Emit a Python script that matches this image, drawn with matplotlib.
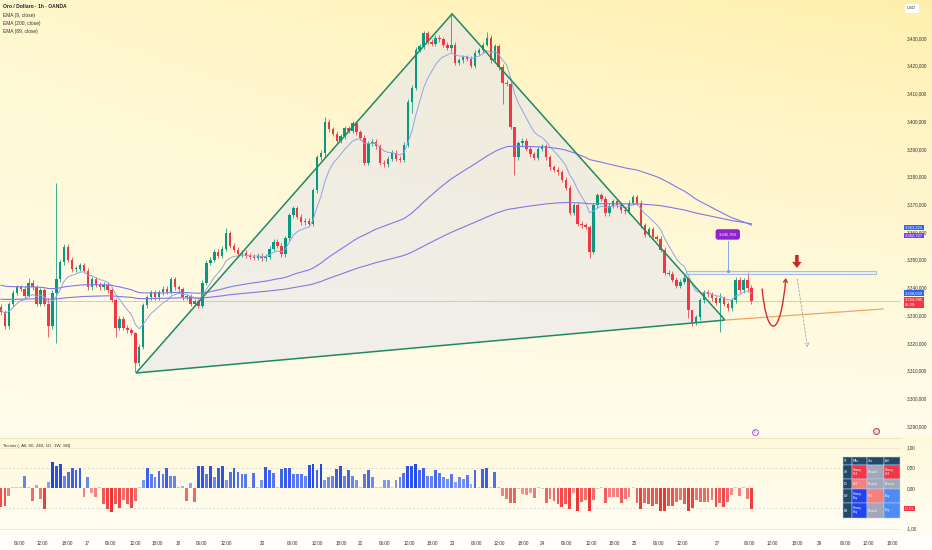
import numpy as np
import matplotlib
matplotlib.use('Agg')
from matplotlib import pyplot as plt
import matplotlib.patches as patches
from matplotlib.path import Path

plt.rcParams['font.family'] = ['Liberation Sans', 'DejaVu Sans']

# ---- data (1h bars, XAU/USD OANDA) ----
first_open = 3333.0
closes = [
    3331, 3326, 3334, 3338, 3340, 3339.5, 3337, 3341.6, 3340, 3334,
    3339, 3334, 3326, 3338, 3343, 3349, 3354.6, 3350, 3346.6, 3346.8,
    3348, 3346, 3340, 3343, 3341, 3340, 3341, 3339, 3335.5, 3325.4,
    3328.6, 3325.4, 3324.5, 3323.6, 3312.7, 3318.5, 3333.6, 3336.5, 3338.3, 3336.5,
    3338.3, 3339.5, 3338.5, 3343, 3340, 3339.4, 3336.5, 3336.8, 3334, 3335,
    3333.3, 3341.6, 3348.8, 3350, 3352.8, 3351.5, 3354, 3359.6, 3355, 3353.5,
    3352, 3352.5, 3351.5, 3351, 3350.6, 3351.5, 3350.5, 3351, 3354, 3356.4,
    3355, 3352, 3357.8, 3366, 3368.6, 3365.5, 3363.5, 3364, 3363, 3375,
    3387, 3388.5, 3399.7, 3397, 3395.5, 3393, 3394.5, 3397.5, 3396.5, 3399.3,
    3396, 3394, 3385, 3392, 3392.5, 3391, 3385, 3384.5, 3386.5, 3388.5,
    3386.5, 3386, 3391.4, 3407, 3412, 3425.7, 3427, 3431.8, 3428.6, 3428,
    3430, 3429.5, 3427.5, 3426.5, 3427.5, 3421, 3422, 3423, 3422.5, 3420,
    3424.6, 3425.5, 3427.5, 3430, 3422, 3427, 3419.5, 3413.8, 3413.5, 3398,
    3387, 3392, 3393, 3390, 3388, 3386.7, 3390, 3391, 3387, 3383.4,
    3382.5, 3381.5, 3378.8, 3376, 3367, 3369.7, 3363, 3362.5, 3361.8, 3352.8,
    3369.7, 3373.3, 3372, 3366.8, 3369.5, 3371, 3369.7, 3367.8, 3367.5, 3370.5,
    3372.6, 3370.5, 3362.5, 3358.9, 3361, 3358, 3357.5, 3353.5, 3345.2, 3345,
    3342.7, 3340.5, 3342, 3343.4, 3331.8, 3327.5, 3329.3, 3335.4, 3338.3, 3337.5,
    3336, 3334.5, 3336, 3334, 3332.5, 3335.4, 3342.7, 3339, 3342.5, 3339.8, 3334.995,
]
# bars with long wicks: bar -> (high, low)
long_wicks = {
    7: (3343.5, 3336.5), 12: (3336, 3322), 14: (3377.7, 3320), 29: (3336, 3322),
    34: (3324, 3309.3), 57: (3361.5, 3353), 82: (3401.5, 3387), 104: (3413, 3403),
    114: (3438.5, 3425), 123: (3432, 3427), 127: (3420.5, 3406), 130: (3398, 3380.5),
    149: (3362.5, 3350.5), 174: (3343.5, 3329), 175: (3332, 3326),
    182: (3338, 3324), 189: (3346, 3338.5),
}
ema_seeds = {9: 3332.0, 200: 3335.8, 89: 3341.0}

# "Tecnici" histogram, one value per bar
hist = [
    -0.46, -0.44, -0.20, 0, 0, 0, 0.30, 0, -0.32, 0.07,
    -0.27, -0.53, 0.16, 0.64, 0.55, 0.60, 0.30, 0.40, 0.49, 0.45,
    0.49, -0.21, 0.27, -0.13, -0.23, 0, -0.40, -0.51, -0.59, -0.40,
    -0.49, -0.30, -0.40, -0.49, -0.31, 0.02, 0.20, 0.49, 0.35, 0.28,
    0.42, 0.34, 0.49, 0.29, 0.29, 0, 0.06, -0.32, 0.12, -0.34,
    0.54, 0.54, 0.35, 0.55, 0.26, 0.49, 0.55, 0.20, 0.39, 0.49,
    0.39, 0.35, 0.35, 0, 0.38, 0, 0.21, 0.52, 0.45, 0.36,
    0.02, 0.46, 0.50, 0.50, 0.35, 0.35, 0.35, 0.30, 0.56, 0.60,
    0.45, 0.60, 0.21, 0.26, 0.30, 0.48, 0.55, 0.30, 0.45, 0.30,
    0.21, 0.02, 0.35, 0.44, 0.26, 0, 0, 0.19, 0.19, 0.03,
    0.20,
    0.28, 0.38, 0.55, 0.55, 0.59, 0.44, 0.49, 0.30, 0.30, 0.44,
    0.36, 0.26, 0.23, 0.35, 0.16, 0.26, 0.23, 0.33, 0.10, 0.44,
    0, 0.46, 0.50, 0, 0.40, 0, -0.20, -0.26, -0.36, -0.36,
    -0.03, -0.14, -0.18, -0.13, -0.25, 0, -0.02, -0.36, -0.28, -0.32,
    -0.40, -0.48, -0.40, -0.51, -0.13, -0.57, -0.34, -0.30, -0.57, -0.30,
    -0.03, 0, -0.37, -0.21, -0.21, -0.21, -0.37, -0.26, -0.21, 0,
    -0.36, -0.53, -0.36, -0.40, -0.44, -0.40, -0.57, -0.57, -0.44, -0.44,
    -0.34, -0.29, -0.40, -0.57, -0.50, -0.29, -0.34, -0.34, -0.34, -0.29,
    -0.48, -0.36, -0.48, -0.34, -0.17, 0, -0.20, 0, -0.26, -0.53,
]

# time axis (bar number, label)
tick_pos = [4.8, 10.6, 16.7, 21.8, 27.8, 33.9, 39.5, 44.8, 50.9, 57.0, 66.1,
            73.9, 80.0, 86.1, 91.1, 97.2, 103.3, 109.1, 114.2, 120.3, 126.3,
            132.2, 137.2, 143.3, 149.4, 155.2, 160.3, 166.6, 172.4, 181.5,
            189.4, 195.4, 201.5, 207.3, 213.7, 219.5, 225.6]
tick_lab = ['06:00', '12:00', '18:00', '17', '06:00', '12:00', '18:00', '18',
            '06:00', '12:00', '20', '06:00', '12:00', '18:00', '22', '06:00',
            '12:00', '18:00', '23', '06:00', '12:00', '18:00', '24', '06:00',
            '12:00', '18:00', '25', '06:00', '12:00', '27', '06:00', '12:00',
            '18:00', '29', '06:00', '12:00', '18:00']

price_ticks = [3290, 3300, 3310, 3320, 3330, 3340, 3350, 3360, 3370, 3380,
               3390, 3400, 3410, 3420, 3430]
osc_ticks = [1.0, 0.5, 0.0, -1.0]

# right-scale value labels
ema89_last = 3363.224
ema200_last = 3362.727
ema9_last = 3338.039
last_close = 3334.995
countdown = '05:29'
osc_last = -0.51

# drawings (bar, price)
tri_pts = [(34.2, 3309.1), (114.2, 3438.7), (183.3, 3328.2)]
trend_end = (223.3, 3332.2)
zone = (173.4, 221.5, 3344.7, 3345.9)
zone_label = 3345.789
zone_label_pos = (184.0, 3359.1)
u_curve = [(192.7, 3339.4), (194.0, 3321.0), (197.3, 3321.0), (198.7, 3343.4)]
down_arrow = (201.5, 3351.7, 4.7)
dashed_path = [(201.5, 3344.0), (204.3, 3317.4)]

# technical rating table
tbl_head = ['TF', 'MAs', 'Osc', 'All']
tbl_tf = ['4H', '1D', '1W', '1M']
tbl_vals = [['Strong\nSell', 'Neutral', 'Strong\nSell'],
            ['Sell', 'Neutral', 'Neutral'],
            ['Strong\nBuy', 'Sell', 'Buy'],
            ['Strong\nBuy', 'Neutral', 'Buy']]

GREEN = '#089981'
RED = '#f23645'
W, H = 932, 550
YTOP, YBOT = 3443.71, 3286.0
XL, XR = -0.25, 227.6


def fmt_it(v, nd=3):
	s = f'{v:,.{nd}f}'
	return s.replace(',', '#').replace('.', ',').replace('#', '.')


def fx(x):
	return x / W


def fy(y):
	return 1 - y / H


def ema(vals, span, seed):
	a = 2.0 / (span + 1)
	out = []
	p = seed
	for v in vals:
		p = p + a * (v - p)
		out.append(p)
	return np.array(out)


def draw_background(fig):
	bg = fig.add_axes([0, 0, 1, 1], zorder=-10)
	ny, nx = 275, 60
	img = np.ones((ny, nx, 3))
	u = np.linspace(0, 1, nx)
	for r in range(ny):
		ypx = (r + 0.5) * H / ny
		if ypx < 437:
			t = (ypx / 437) ** 0.8
			top = np.stack([np.ones(nx), 0.968 - 0.03 * u, 0.80 - 0.13 * u], 1)
			bot = np.array([1.0, 0.99, 0.925])
			img[r] = top * (1 - t) + bot * t
		elif ypx < 536:
			t = (ypx - 437) / 99
			img[r] = np.array([1.0, 0.975, 0.855]) * (1 - t) + np.array([1.0, 0.995, 0.955]) * t
		else:
			img[r] = [1.0, 0.998, 0.985]
	bg.imshow(img, aspect='auto', extent=[0, 1, 0, 1], interpolation='bilinear')
	bg.axis('off')


def draw_candles(ax):
	c = np.array(closes, dtype=float)
	o = np.r_[first_open, c[:-1]]
	x = np.arange(len(c))
	hi = np.maximum(o, c) + 0.9
	lo = np.minimum(o, c) - 0.9
	for b, (h, l) in long_wicks.items():
		hi[b] = h
		lo[b] = l
	col = np.where(c >= o, GREEN, RED)
	ax.vlines(x, lo, hi, colors=col, lw=0.55, zorder=4)
	body = np.maximum(np.abs(c - o), 0.35)
	ax.bar(x, body, bottom=np.minimum(o, c), width=0.62, color=col, zorder=5)
	ax.plot(x, ema(c, 9, ema_seeds[9]), color='#8ea6e6', lw=0.7, zorder=6)
	ax.plot(x, ema(c, 200, ema_seeds[200]), color='#8a74e0', lw=0.8, zorder=6)
	ax.plot(x, ema(c, 89, ema_seeds[89]), color='#7f7ae8', lw=0.8, zorder=6)
	ax.axhline(last_close, color='#f2a3a3', lw=0.5, zorder=3)


def draw_tools(ax):
	ax.add_patch(patches.Polygon(tri_pts, closed=True, facecolor=(0.9, 0.9, 0.92),
		alpha=0.6, edgecolor='none', zorder=1))
	ax.add_patch(patches.Polygon(tri_pts, closed=True, fill=False,
		edgecolor='#1f8a62', lw=1.1, zorder=7))
	p3 = tri_pts[2]
	ax.plot([p3[0], trend_end[0]], [p3[1], trend_end[1]], color='#f4a45f', lw=0.9, zorder=7)
	x0, x1, y0, y1 = zone
	ax.add_patch(patches.Rectangle((x0, y0), x1 - x0, y1 - y0, facecolor='#e3ecff',
		alpha=0.6, edgecolor='#6d9eeb', lw=0.8, zorder=7))
	bx, by = zone_label_pos
	ax.plot([bx, bx], [by - 2.4, y1], color='#6d9eeb', lw=0.6, zorder=7)
	ax.plot([bx], [y1], 'o', ms=1.3, color='#6d9eeb', zorder=8)
	ax.text(bx, by, fmt_it(zone_label), color='white', fontsize=2.9, ha='center',
		va='center', zorder=9,
		bbox=dict(boxstyle='round,pad=0.8,rounding_size=0.6', fc='#8e24c9', ec='none'))
	path = Path(u_curve, [Path.MOVETO, Path.CURVE4, Path.CURVE4, Path.CURVE4])
	ax.add_patch(patches.FancyArrowPatch(path=path, arrowstyle='->,head_length=2.2,head_width=1.4',
		color='#d0312d', lw=1.0, zorder=9))
	ax_, ay, alen = down_arrow
	ax.add_patch(patches.FancyArrow(ax_, ay, 0, -alen, width=0.9, head_width=2.4,
		head_length=2.2, length_includes_head=True, color='#c62828', lw=0, zorder=9))
	ax.annotate('', xy=dashed_path[1], xytext=dashed_path[0],
		arrowprops=dict(arrowstyle='->,head_length=0.25,head_width=0.15',
			linestyle=(0, (2.5, 2)), color='#a0a4b8', lw=0.6), zorder=9)
	# event icons at the bottom of the price pane
	ax.plot([190.9], [3287.9], 'o', ms=4.2, mfc='white', mec='#9c3fd0', mew=0.6, zorder=9,
		clip_on=False)
	ax.text(190.9, 3287.9, 'E', fontsize=2.4, color='#9c3fd0', ha='center', va='center', zorder=10)
	ax.plot([221.5], [3288.2], 'o', ms=4.2, mfc='#e0e4f4', mec='#d04050', mew=0.8, zorder=9,
		clip_on=False)


def right_label(ax, value, text, color, dy_pt=0.0, fs=3.0, va='center'):
	ax.annotate(text, xy=(1.0, value), xycoords=('axes fraction', 'data'),
		xytext=(3.6, dy_pt), textcoords='offset points', fontsize=fs, color='white',
		ha='left', va=va, annotation_clip=False, zorder=20, linespacing=1.3,
		bbox=dict(boxstyle='square,pad=0.18', fc=color, ec='none'))


def draw_table(fig):
	xs = [843, 852, 867, 884, 900]
	ys = [457, 464.5, 479, 488.5, 503, 518]
	cmap = {'Strong\nSell': '#f23645', 'Sell': '#f5807e', 'Neutral': '#a4a7b8',
		'Strong\nBuy': '#2343f0', 'Buy': '#4d8cf4'}
	dark = '#214a68'
	for r in range(5):
		for cc in range(4):
			if r == 0:
				txt, fc = tbl_head[cc], dark
			elif cc == 0:
				txt, fc = tbl_tf[r - 1], dark
			else:
				txt = tbl_vals[r - 1][cc - 1]
				fc = cmap[txt]
			x0, x1 = xs[cc], xs[cc + 1]
			y0, y1 = ys[r], ys[r + 1]
			fig.patches.append(patches.Rectangle((fx(x0), fy(y1)), fx(x1 - x0), (y1 - y0) / H,
				transform=fig.transFigure, facecolor=fc, edgecolor='#bcd2fb', lw=0.35, zorder=30))
			fig.text(fx(x0 + 1), fy((y0 + y1) / 2), txt, fontsize=2.2, color='white',
				ha='left', va='center', linespacing=1.0, zorder=31)


fig = plt.figure(figsize=(W / 100, H / 100), dpi=100)
draw_background(fig)

ax = fig.add_axes([0, 113 / H, 900 / W, 437 / H])
ax.set_facecolor('none')
draw_tools(ax)
draw_candles(ax)
ax.set_xlim(XL, XR)
ax.set_ylim(YBOT, YTOP)
ax.set_xticks([])
ax.yaxis.tick_right()
ax.set_yticks(price_ticks)
ax.set_yticklabels([fmt_it(v) for v in price_ticks])
ax.tick_params(axis='y', length=0, labelsize=3.3, pad=5, colors='#333333')
for s in ax.spines.values():
	s.set_visible(False)

right_label(ax, ema89_last, fmt_it(ema89_last), '#2962ff', dy_pt=-3.2)
right_label(ax, ema200_last, fmt_it(ema200_last), '#7b3ff0', dy_pt=-8.1)
right_label(ax, ema9_last, fmt_it(ema9_last), '#2962ff', dy_pt=-0.3)
right_label(ax, last_close, fmt_it(last_close) + '\n' + countdown, RED, dy_pt=2.4, va='top')

# lower pane: technical ratings
ax2 = fig.add_axes([0, 14 / H, 900 / W, 98 / H])
ax2.set_facecolor('none')
hv = np.array(hist, dtype=float)
hx = np.arange(len(hv))
cols = []
for v in hv:
	k = min(1.0, abs(v) / 0.62)
	if v > 0.05:
		a, b = np.array([0.66, 0.74, 0.96]), np.array([0.12, 0.27, 0.91])
	elif v < -0.05:
		a, b = np.array([0.97, 0.68, 0.68]), np.array([0.93, 0.17, 0.17])
	else:
		a = b = np.array([0.78, 0.78, 0.82])
	cols.append(a * (1 - k) + b * k)
hh = np.where(np.abs(hv) < 0.02, 0.02, hv)
ax2.bar(hx, hh, width=0.72, color=cols, zorder=3)
for lv in (0.5, -0.5):
	ax2.axhline(lv, color='#cfcfcf', lw=0.5, ls=(0, (3, 3)), zorder=1)
for lv in (1.0, -1.0):
	ax2.axhline(lv, color='#ebe5cc', lw=0.5, zorder=1)
ax2.set_xlim(XL, XR)
ax2.set_ylim(-1.185, 1.235)
ax2.yaxis.tick_right()
ax2.set_yticks(osc_ticks)
ax2.set_yticklabels([fmt_it(v, 2) for v in osc_ticks])
ax2.set_xticks(tick_pos)
ax2.set_xticklabels(tick_lab)
ax2.tick_params(length=0, labelsize=3.3, colors='#333333')
ax2.tick_params(axis='y', pad=5)
ax2.tick_params(axis='x', pad=3.3)
for s in ax2.spines.values():
	s.set_visible(False)
right_label(ax2, osc_last, fmt_it(osc_last, 2), RED)
ax2.text(3 / 900, 0.918, 'Tecnici (, All, 60, 240, 1D, 1W, 1M)', transform=ax2.transAxes,
	fontsize=3.2, color='#333333', ha='left', va='center')

# pane separator
fig.add_artist(plt.Line2D([0, 900 / W], [fy(437.5), fy(437.5)], transform=fig.transFigure,
	color='#e6dfc2', lw=0.6))

# legend at top-left
fig.text(fx(3), fy(7), 'Oro / Dollaro · 1h · OANDA', fontsize=3.6, color='#222222',
	ha='left', va='center', fontweight='bold')
for i, t in enumerate(['EMA (9, close)', 'EMA (200, close)', 'EMA (89, close)']):
	fig.text(fx(3), fy(15 + 8 * i), t, fontsize=3.5, color='#333333', ha='left', va='center')

# currency box
fig.text(fx(907), fy(8), 'USD', fontsize=3.0, color='#333333', ha='left', va='center',
	bbox=dict(boxstyle='square,pad=0.6', fc='white', ec='none'))

draw_table(fig)

fig.savefig('out.png', dpi=100)
